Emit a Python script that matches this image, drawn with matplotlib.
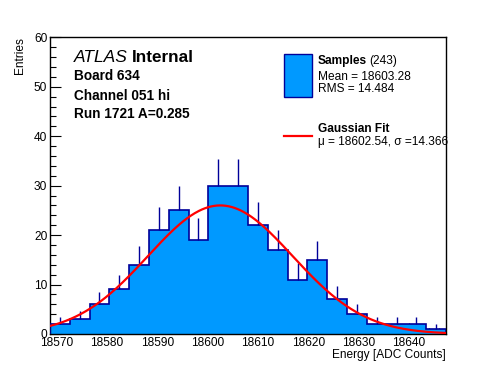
import matplotlib
matplotlib.use('Agg')
import matplotlib.pyplot as plt
import numpy as np

plt.rcParams['font.family'] = ['Liberation Sans', 'DejaVu Sans']

# histogram (20 bins)
x_lo, x_hi = 18568.7, 18647.4
n_bins = 20
counts = [2, 3, 6, 9, 14, 21, 25, 19, 30, 30, 22, 17, 11, 15, 7, 4, 2, 2, 2, 1]

# fit + stats
n_samples = 243
mean, rms = 18603.28, 14.484
mu, sigma, amp = 18602.54, 14.366, 26.0

fill_col = '#0099ff'
line_col = '#000099'

edges = np.linspace(x_lo, x_hi, n_bins + 1)
centers = 0.5 * (edges[:-1] + edges[1:])
counts = np.array(counts, dtype=float)

fig = plt.figure(figsize=(4.96, 3.72), dpi=100)
ax = fig.add_axes([0.1008, 0.1022, 0.7984, 0.7975])

ax.stairs(counts, edges, fill=True, color=fill_col, zorder=2)
ax.stairs(counts, edges, color=line_col, lw=1.2, zorder=3)
ax.vlines(centers, counts, counts + np.sqrt(counts), color=line_col, lw=1.0, zorder=3)

xx = np.linspace(x_lo, x_hi, 400)
ax.plot(xx, amp * np.exp(-0.5 * ((xx - mu) / sigma) ** 2), color='red', lw=1.6, zorder=4)

ax.set_xlim(x_lo, x_hi)
ax.set_ylim(0, 60)
ax.set_xticks(np.arange(18570, 18641, 10))
ax.set_xticks(np.arange(18570, 18647, 2), minor=True)
ax.set_yticks(np.arange(0, 61, 10))
ax.set_yticks(np.arange(0, 61, 2), minor=True)
ax.tick_params(which='both', direction='in', labelsize=8.6, pad=2)
ax.tick_params(which='major', length=8, width=0.8)
ax.tick_params(which='minor', length=4, width=0.8)
for s in ax.spines.values():
    s.set_linewidth(1.0)

ax.set_xlabel('Energy [ADC Counts]', fontsize=8.6, loc='right', labelpad=0)
ax.set_ylabel('Entries', fontsize=8.6, loc='top', labelpad=6)

# ATLAS label block
fig.text(74 / 496, 1 - 58 / 372, 'ATLAS', style='italic', fontsize=12.5, va='center')
fig.text(132 / 496, 1 - 58 / 372, 'Internal', weight='bold', fontsize=12.3, va='center')
fig.text(74 / 496, 1 - 76.5 / 372, 'Board 634', weight='bold', fontsize=9.8, va='center')
fig.text(74 / 496, 1 - 95.5 / 372, 'Channel 051 hi', weight='bold', fontsize=9.8, va='center')
fig.text(74 / 496, 1 - 114 / 372, 'Run 1721 A=0.285', weight='bold', fontsize=9.8, va='center')

# legend drawn by hand
ax_l = fig.add_axes([0, 0, 1, 1], facecolor='none')
ax_l.set_xlim(0, 496)
ax_l.set_ylim(372, 0)
ax_l.axis('off')
ax_l.add_patch(plt.Rectangle((283.5, 53.5), 28, 43, facecolor=fill_col, edgecolor=line_col, lw=1))
ax_l.plot([283.5, 311.5], [135.5, 135.5], color='red', lw=1.6)
ax_l.text(318, 61, 'Samples', weight='bold', fontsize=8.6, va='center')
ax_l.text(369, 61, '(%d)' % n_samples, fontsize=8.6, va='center')
ax_l.text(318, 77, 'Mean = %.2f' % mean, fontsize=8.6, va='center')
ax_l.text(318, 89, 'RMS = %.3f' % rms, fontsize=8.6, va='center')
ax_l.text(318, 128.5, 'Gaussian Fit', weight='bold', fontsize=8.6, va='center')
ax_l.text(318, 142, 'μ = %.2f, σ =%.3f' % (mu, sigma), fontsize=8.6, va='center')

fig.savefig('out.png', dpi=100)
